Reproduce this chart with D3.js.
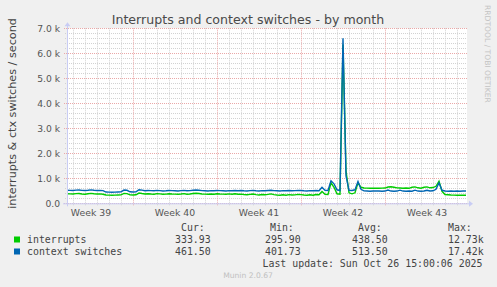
<!DOCTYPE html>
<html>
<head>
<meta charset="utf-8">
<script src="https://cdn.jsdelivr.net/npm/d3@7"></script>
<style>
  body { margin: 0; background: #f0f0f0; }
  svg { display: block; }
  text { font-family: "DejaVu Sans", sans-serif; }
  .mono { font-family: "DejaVu Sans Mono", monospace; font-size: 9.9px; fill: #444; }
</style>
</head>
<body>
<div id="chart"></div>
<script>
var width = 497, height = 287;

// values sampled every 6 hours, from Sep 23 12:00 to Oct 26 ~18:00
var interrupts = [
  380,375,370,385,390,370,365,380,395,380,370,375,360,
  330,325,320,325,330,335,
  395,385,
  335,330,340,
  410,390,
  375,380,370,365,385,375,360,365,380,370,365,360,370,385,365,370,390,400,
  390,370,365,360,370,365,380,370,365,360,375,365,380,
  360,365,350,340,355,370,345,335,350,340,355,375,345,330,320,340,325,345,330,335,355,345,330,320,340,325,350,340,
  470,360,350,820,640,380,360,6350,1300,420,380,420,820,640,
  610,605,600,600,605,600,605,610,650,660,640,615,610,605,610,600,640,655,620,605,640,655,620,630,
  680,880,480,
  350,340,330,325,320,320,325,320
];
var contextSwitches = [
  520,515,510,525,530,515,510,520,535,520,510,515,505,
  450,445,440,445,450,455,
  530,520,
  460,450,455,
  540,525,
  500,510,505,500,515,505,495,500,510,505,500,495,505,515,500,505,520,530,
  520,505,500,495,505,500,510,505,500,495,505,500,510,
  505,510,500,495,505,515,500,495,505,500,510,520,505,500,495,505,500,510,500,505,515,510,500,495,505,500,510,505,
  640,520,510,900,780,540,510,6600,1100,520,510,540,870,560,
  495,490,485,490,495,490,485,490,530,490,485,490,525,490,485,490,485,525,490,485,490,520,495,500,
  560,820,520,
  490,485,490,485,490,485,490,490
];
var yTicks = [0, 1000, 2000, 3000, 4000, 5000, 6000, 7000];
var legendNames = ["interrupts", "context switches"];
var colors = ["#00cc00", "#0066b3"];
var cur = ["333.93", "461.50"], mins = ["295.90", "401.73"],
    avgs = ["438.50", "513.50"], maxs = ["12.73k", "17.42k"];

var start = Date.UTC(2025, 8, 23, 12), step = 6 * 3600 * 1000;
var times = interrupts.map(function(d, i) { return new Date(start + i * step); });

var plotLeft = 67, plotRight = 467, plotTop = 28.3, plotBottom = 203.3;

var x = d3.scaleUtc()
    .domain([new Date(start), new Date(Date.UTC(2025, 9, 26, 20))])
    .range([plotLeft, plotRight]);
var y = d3.scaleLinear().domain([0, 7000]).range([plotBottom, plotTop]);

var svg = d3.select("#chart").append("svg")
    .attr("width", width)
    .attr("height", height);

svg.append("rect").attr("width", width).attr("height", height).attr("fill", "#f0f0f0");
svg.append("rect")
    .attr("x", plotLeft).attr("y", plotTop)
    .attr("width", plotRight - plotLeft).attr("height", plotBottom - plotTop)
    .attr("fill", "#ffffff");

// grid
var days = d3.utcDay.range(x.domain()[0], x.domain()[1]);
var mondays = d3.utcMonday.range(x.domain()[0], x.domain()[1]);
var minorY = d3.range(0, 7001, 200).filter(function(v) { return v % 1000 !== 0; });

svg.append("g").selectAll("line")
    .data(minorY).enter().append("line")
    .attr("x1", plotLeft - 2).attr("x2", plotRight)
    .attr("y1", d => Math.round(y(d)) + 0.5).attr("y2", d => Math.round(y(d)) + 0.5)
    .attr("stroke", "#d2d2d2").attr("stroke-dasharray", "1,1");

svg.append("g").selectAll("line")
    .data(days.filter(d => d.getUTCDay() !== 1)).enter().append("line")
    .attr("x1", d => Math.round(x(d)) + 0.5).attr("x2", d => Math.round(x(d)) + 0.5)
    .attr("y1", plotTop).attr("y2", plotBottom + 2)
    .attr("stroke", "#d2d2d2").attr("stroke-dasharray", "1,1");

svg.append("g").selectAll("line")
    .data(yTicks).enter().append("line")
    .attr("x1", plotLeft - 3).attr("x2", plotRight)
    .attr("y1", d => Math.round(y(d)) + 0.5).attr("y2", d => Math.round(y(d)) + 0.5)
    .attr("stroke", "#eaa8a8").attr("stroke-dasharray", "1,1");

svg.append("g").selectAll("line")
    .data(mondays).enter().append("line")
    .attr("x1", d => Math.round(x(d)) + 0.5).attr("x2", d => Math.round(x(d)) + 0.5)
    .attr("y1", plotTop).attr("y2", plotBottom + 3)
    .attr("stroke", "#eaa8a8").attr("stroke-dasharray", "1,1");

// y labels
svg.append("g").selectAll("text")
    .data(yTicks).enter().append("text")
    .attr("x", 60).attr("y", d => y(d) + 3.3)
    .attr("text-anchor", "end")
    .attr("font-size", "9.2px").attr("fill", "#555")
    .text(d => d === 0 ? "0.0" : (d / 1000).toFixed(1) + " k");

// week labels
svg.append("g").selectAll("text")
    .data(d3.utcMonday.range(new Date(Date.UTC(2025, 8, 22)), x.domain()[1])).enter().append("text")
    .attr("x", d => x(new Date(+d + 3.5 * 86400000)))
    .attr("y", 216)
    .attr("text-anchor", "middle")
    .attr("font-size", "9.3px").attr("fill", "#555")
    .text(d => "Week " + d3.utcFormat("%V")(d));

// lines
var line = d3.line()
    .x(function(d, i) { return x(times[i]); })
    .y(function(d) { return y(d); });

[interrupts, contextSwitches].forEach(function(series, k) {
    svg.append("path")
        .datum(series)
        .attr("fill", "none")
        .attr("stroke", colors[k])
        .attr("stroke-width", 1.4)
        .attr("d", line);
});

// axes
svg.append("line").attr("x1", plotLeft - 4).attr("x2", plotRight + 2)
    .attr("y1", plotBottom + 0.5).attr("y2", plotBottom + 0.5).attr("stroke", "#c8ccf4");
svg.append("line").attr("x1", plotLeft + 0.5).attr("x2", plotLeft + 0.5)
    .attr("y1", plotBottom + 3).attr("y2", plotTop - 4).attr("stroke", "#c8ccf4");
svg.append("path").attr("d", "M" + (plotRight + 2) + "," + (plotBottom - 2.5) + "L" + (plotRight + 6) + "," + (plotBottom + 0.5) + "L" + (plotRight + 2) + "," + (plotBottom + 3.5) + "Z")
    .attr("fill", "#c8ccf4");
svg.append("path").attr("d", "M" + (plotLeft - 2.5) + "," + (plotTop - 2) + "L" + (plotLeft + 0.5) + "," + (plotTop - 6) + "L" + (plotLeft + 3.5) + "," + (plotTop - 2) + "Z")
    .attr("fill", "#c8ccf4");

// title
svg.append("text")
    .attr("x", 248).attr("y", 23.5)
    .attr("text-anchor", "middle")
    .attr("font-size", "12.6px").attr("fill", "#4a4a4a")
    .text("Interrupts and context switches - by month");

// y axis title
svg.append("text")
    .attr("transform", "translate(15.5,113.5) rotate(-90)")
    .attr("text-anchor", "middle")
    .attr("font-size", "11.2px").attr("fill", "#444")
    .text("interrupts & ctx switches / second");

// watermark
svg.append("text")
    .attr("transform", "translate(484.5,5) rotate(90)")
    .attr("font-size", "7.6px").attr("fill", "#c4c4c4")
    .text("RRDTOOL / TOBI OETIKER");

// legend
var heads = [["Cur:", 181], ["Min:", 270], ["Avg:", 358], ["Max:", 448]];
svg.append("g").selectAll("text")
    .data(heads).enter().append("text")
    .attr("class", "mono")
    .attr("x", d => d[1]).attr("y", 231)
    .text(d => d[0]);

legendNames.forEach(function(name, k) {
    var yy = 243 + k * 12;
    svg.append("rect")
        .attr("x", 14).attr("y", yy - 6.5)
        .attr("width", 6).attr("height", 6)
        .attr("fill", colors[k]);
    svg.append("text").attr("class", "mono").attr("x", 27).attr("y", yy).text(name);
    svg.append("text").attr("class", "mono").attr("x", 175).attr("y", yy).text(cur[k]);
    svg.append("text").attr("class", "mono").attr("x", 265).attr("y", yy).text(mins[k]);
    svg.append("text").attr("class", "mono").attr("x", 352).attr("y", yy).text(avgs[k]);
    svg.append("text").attr("class", "mono").attr("x", 448).attr("y", yy).text(maxs[k]);
});

svg.append("text").attr("class", "mono")
    .attr("x", 482.5).attr("y", 267)
    .attr("text-anchor", "end")
    .text("Last update: Sun Oct 26 15:00:06 2025");

svg.append("text")
    .attr("x", 248).attr("y", 278)
    .attr("text-anchor", "middle")
    .attr("font-size", "7.6px").attr("fill", "#c0c0c0")
    .text("Munin 2.0.67");
</script>
</body>
</html>
